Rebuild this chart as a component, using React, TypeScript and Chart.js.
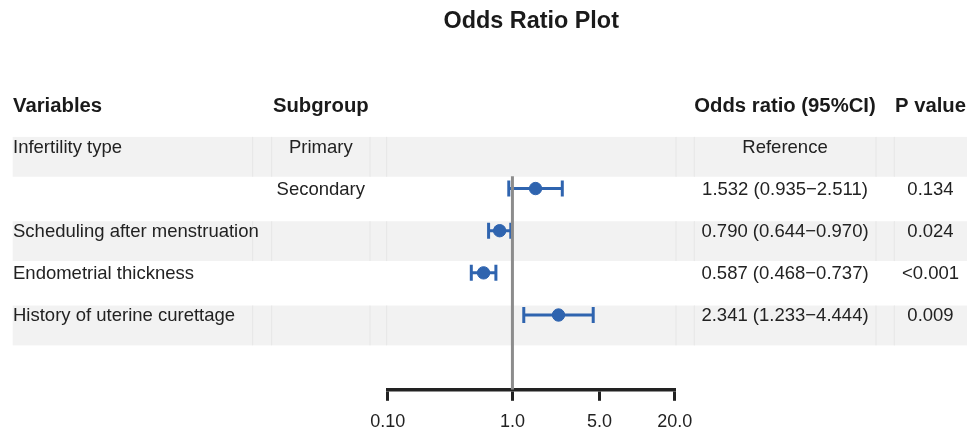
import { useEffect, useRef } from "react";
import { Chart, registerables } from "chart.js";

Chart.register(...registerables);

// ---- data ----
const headers = ["Variables", "Subgroup", "Odds ratio (95%CI)", "P value"];
const variables = [
  "Infertility type",
  "",
  "Scheduling after menstruation",
  "Endometrial thickness",
  "History of uterine curettage",
];
const subgroups = ["Primary", "Secondary", "", "", ""];
const oddsRatio: (number | null)[] = [null, 1.532, 0.79, 0.587, 2.341];
const ciLower: (number | null)[] = [null, 0.935, 0.644, 0.468, 1.233];
const ciUpper: (number | null)[] = [null, 2.511, 0.97, 0.737, 4.444];
const orText = [
  "Reference",
  "1.532 (0.935\u22122.511)",
  "0.790 (0.644\u22120.970)",
  "0.587 (0.468\u22120.737)",
  "2.341 (1.233\u22124.444)",
];
const pValues = ["", "0.134", "0.024", "<0.001", "0.009"];
const xTicks = [0.1, 1, 5, 20];
const xTickLabels = ["0.10", "1.0", "5.0", "20.0"];
const referenceValue = 1;

// ---- layout / style ----
const FONT = "'Liberation Sans', Arial, Helvetica, sans-serif";
const BLUE = "#2F64AF";
const Y_MIN = -2;
const Y_MAX = 5.774;
const REF_TOP = 0.71;
const colX = [13, 320.8, 785, 930.5];
const colAlign: CanvasTextAlign[] = ["left", "center", "center", "center"];
const separators = [252.7, 271.7, 370, 386.7, 676, 694.3, 876, 894.3];

export default function App() {
  const ref = useRef<HTMLCanvasElement>(null);

  useEffect(() => {
    if (!ref.current) return;
    const rows = variables.map((_, i) => i);

    const tablePlugin = {
      id: "forestTable",
      beforeDatasetsDraw(chart: any) {
        const { ctx } = chart;
        const y = chart.scales.y;
        ctx.save();
        rows.forEach((i) => {
          if (i % 2 !== 0) return;
          const top = y.getPixelForValue(i - 0.225);
          const bot = y.getPixelForValue(i + 0.72);
          ctx.fillStyle = "#F2F2F2";
          ctx.fillRect(12.7, top, 967 - 12.7, bot - top);
          ctx.strokeStyle = "#E6E6E6";
          ctx.lineWidth = 1;
          separators.forEach((x) => {
            ctx.beginPath();
            ctx.moveTo(x, top);
            ctx.lineTo(x, bot);
            ctx.stroke();
          });
        });
        ctx.restore();
      },
      afterDatasetsDraw(chart: any) {
        const { ctx } = chart;
        const y = chart.scales.y;
        ctx.save();
        ctx.textBaseline = "middle";
        ctx.font = `bold 20.3px ${FONT}`;
        ctx.fillStyle = "#1A1A1A";
        const hy = y.getPixelForValue(-0.98) + 1;
        headers.forEach((h, c) => {
          ctx.textAlign = colAlign[c];
          ctx.fillText(h, colX[c], hy);
        });
        ctx.font = `18.5px ${FONT}`;
        ctx.fillStyle = "#222222";
        rows.forEach((i) => {
          const py = y.getPixelForValue(i) + 1.2;
          const cells = [variables[i], subgroups[i], orText[i], pValues[i]];
          cells.forEach((t, c) => {
            if (!t) return;
            ctx.textAlign = colAlign[c];
            ctx.fillText(t, colX[c], py);
          });
        });
        ctx.restore();
      },
    };

    const datasets: any[] = [];
    datasets.push({
      data: [
        { x: referenceValue, y: REF_TOP },
        { x: referenceValue, y: Y_MAX },
      ],
      showLine: true,
      borderColor: "#8C8C8C",
      borderWidth: 3,
      pointRadius: 0,
    });
    datasets.push({
      data: rows
        .filter((i) => oddsRatio[i] != null)
        .map((i) => ({ x: oddsRatio[i], y: i })),
      backgroundColor: BLUE,
      borderColor: BLUE,
      borderWidth: 1,
      pointRadius: 6.2,
      pointStyle: "circle",
    });
    rows.forEach((i) => {
      if (oddsRatio[i] == null) return;
      datasets.push({
        data: [
          { x: ciLower[i], y: i },
          { x: ciUpper[i], y: i },
        ],
        showLine: true,
        borderColor: BLUE,
        borderWidth: 3,
        pointStyle: "line",
        rotation: 90,
        pointRadius: 8,
        pointBorderWidth: 3,
        pointBorderColor: BLUE,
      });
    });

    const chart = new Chart(ref.current, {
      type: "scatter",
      data: { datasets },
      plugins: [tablePlugin],
      options: {
        animation: false,
        responsive: false,
        devicePixelRatio: 1,
        layout: { padding: { left: 387.7, right: 292.3, top: 8, bottom: -10.4 } },
        plugins: {
          legend: { display: false },
          tooltip: { enabled: false },
          title: {
            display: true,
            text: "Odds Ratio Plot",
            color: "#1A1A1A",
            font: { family: FONT, size: 23.4, weight: "bold", lineHeight: 1.2 },
            padding: { top: 0, bottom: 26.0 },
          },
        },
        scales: {
          x: {
            type: "logarithmic",
            min: 0.1,
            max: 20,
            bounds: "data",
            afterBuildTicks: (axis: any) => {
              axis.ticks = xTicks.map((v) => ({ value: v }));
            },
            ticks: {
              callback: (v: any) => xTickLabels[xTicks.indexOf(Number(v))] ?? "",
              font: { family: FONT, size: 18, lineHeight: 1.2 },
              color: "#222222",
              padding: 10,
              maxRotation: 0,
              autoSkip: false,
            },
            grid: {
              drawOnChartArea: false,
              drawTicks: true,
              tickLength: 11,
              color: "#222222",
              lineWidth: 3,
            },
            border: { display: true, color: "#222222", width: 3.5 },
          },
          y: {
            type: "linear",
            reverse: true,
            min: Y_MIN,
            max: Y_MAX,
            bounds: "data",
            display: false,
          },
        },
      },
    } as any);
    return () => chart.destroy();
  }, []);

  return (
    <div style={{ position: "absolute", left: 0, top: 0, width: 967, height: 432 }}>
      <canvas ref={ref} width={967} height={432} style={{ display: "block" }} />
    </div>
  );
}
